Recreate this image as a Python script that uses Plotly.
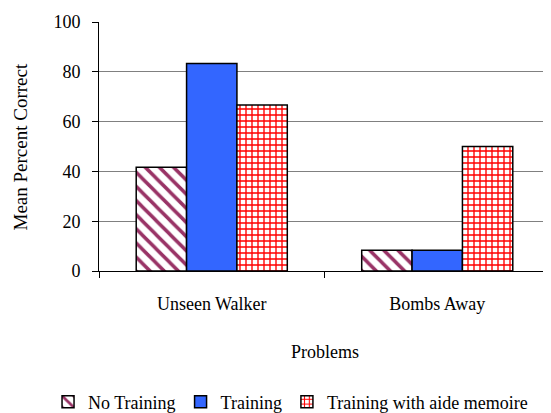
import plotly.graph_objects as go

categories = ["Unseen Walker", "Bombs Away"]
no_training = [41.7, 8.3]
training = [83.3, 8.3]
aide_memoire = [66.7, 50.0]
series_names = ["No Training", "Training", "Training with aide memoire"]
y_ticks = [0, 20, 40, 60, 80, 100]

FONT = "Liberation Serif, Times New Roman, serif"

fig = go.Figure()
fig.add_trace(go.Bar(
    x=categories, y=no_training, name=series_names[0],
    marker=dict(color="white", line=dict(color="black", width=1.5),
                pattern=dict(shape="\\", fgcolor="#993366", bgcolor="white",
                             size=10, solidity=0.35, fillmode="replace")),
))
fig.add_trace(go.Bar(
    x=categories, y=training, name=series_names[1],
    marker=dict(color="#3366FF", line=dict(color="black", width=1.5)),
))
fig.add_trace(go.Bar(
    x=categories, y=aide_memoire, name=series_names[2],
    marker=dict(color="white", line=dict(color="black", width=1.5),
                pattern=dict(shape="+", fgcolor="#FF0000", bgcolor="white",
                             size=6, solidity=0.4, fillmode="replace")),
))

# page body has an 8px margin, so the figure is sized/offset to compensate
fig.update_layout(
    width=543, height=405,
    margin=dict(l=91, r=1, t=14, b=142, autoexpand=False),
    paper_bgcolor="white", plot_bgcolor="white",
    font=dict(family=FONT, size=18, color="black"),
    barmode="group", bargap=0.33, bargroupgap=0,
    showlegend=True,
    legend=dict(orientation="h", xref="paper", yref="paper",
                x=-0.113, xanchor="left", y=-0.526, yanchor="middle",
                font=dict(family=FONT, size=18), itemwidth=30, tracegroupgap=0,
                bgcolor="rgba(0,0,0,0)"),
    xaxis=dict(
        showline=True, linecolor="black", linewidth=1,
        ticks="outside", ticklen=6, tickcolor="black", tickson="boundaries",
        showgrid=False, ticklabelstandoff=16,
        tickfont=dict(family=FONT, size=18),
    ),
    yaxis=dict(
        range=[0, 100], tickvals=y_ticks,
        showline=True, linecolor="black", linewidth=1,
        ticks="outside", ticklen=6, tickcolor="black",
        showgrid=True, gridcolor="#808080", gridwidth=1,
        zeroline=False, ticklabelstandoff=8,
        tickfont=dict(family=FONT, size=18),
    ),
    annotations=[
        dict(text="Problems", xref="paper", yref="paper", x=0.5, y=-0.325,
             xanchor="center", yanchor="middle", showarrow=False,
             font=dict(family=FONT, size=18)),
        dict(text="Mean Percent Correct", xref="paper", yref="paper", x=-0.173, y=0.5,
             xanchor="center", yanchor="middle", textangle=-90, showarrow=False,
             font=dict(family=FONT, size=19)),
    ],
)

fig.write_html("out.html")
